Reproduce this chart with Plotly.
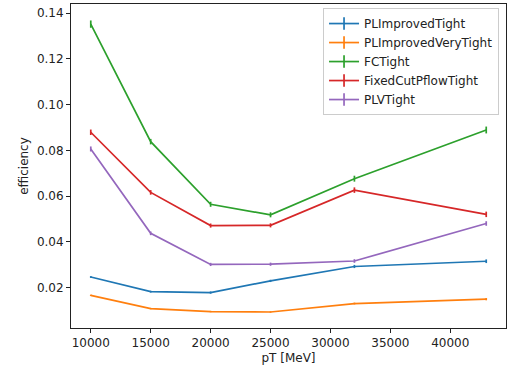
import plotly.graph_objects as go

pt = [10000, 15000, 20000, 25000, 32000, 43000]
names = ["PLImprovedTight", "PLImprovedVeryTight", "FCTight", "FixedCutPflowTight", "PLVTight"]
colors = ["#1f77b4", "#ff7f0e", "#2ca02c", "#d62728", "#9467bd"]
eff_pl_tight = [0.0246, 0.0182, 0.0178, 0.0229, 0.0292, 0.0315]
eff_pl_vtight = [0.0166, 0.0108, 0.0095, 0.0093, 0.0130, 0.0149]
eff_fc_tight = [0.1352, 0.0838, 0.0564, 0.0518, 0.0676, 0.0889]
eff_fixedcut = [0.0879, 0.0616, 0.0471, 0.0472, 0.0626, 0.0520]
eff_plv_tight = [0.0806, 0.0437, 0.0301, 0.0302, 0.0316, 0.0480]
err_pl_tight = [0.0004, 0.0004, 0.0005, 0.0005, 0.0007, 0.0008]
err_pl_vtight = [0.0003, 0.0003, 0.0003, 0.0003, 0.0004, 0.0005]
err_fc_tight = [0.0016, 0.0012, 0.0011, 0.0011, 0.0013, 0.0015]
err_fixedcut = [0.0012, 0.0010, 0.0009, 0.0009, 0.0012, 0.0012]
err_plv_tight = [0.0011, 0.0008, 0.0007, 0.0007, 0.0008, 0.0010]
x_ticks = [10000, 15000, 20000, 25000, 30000, 35000, 40000]
y_ticks = [0.02, 0.04, 0.06, 0.08, 0.10, 0.12, 0.14]

series = [eff_pl_tight, eff_pl_vtight, eff_fc_tight, eff_fixedcut, eff_plv_tight]
errors = [err_pl_tight, err_pl_vtight, err_fc_tight, err_fixedcut, err_plv_tight]

fig = go.Figure()
for name, color, ys, es in zip(names, colors, series, errors):
    fig.add_trace(go.Scatter(
        x=pt, y=ys, mode="lines", name=name, showlegend=False,
        line=dict(color=color, width=1.7),
        error_y=dict(type="data", array=es, visible=True, color=color, thickness=1.7, width=0),
    ))
for name, color in zip(names, colors):
    fig.add_trace(go.Scatter(
        x=[None], y=[None], mode="lines+markers", name=name,
        line=dict(color=color, width=1.7),
        marker=dict(symbol="line-ns-open", size=9, color=color, line=dict(color=color, width=1.7)),
    ))

font = "DejaVu Sans"
fig.update_layout(
    width=514, height=367,
    margin=dict(l=71, r=8, t=4, b=39),
    paper_bgcolor="white", plot_bgcolor="white",
    font=dict(family=font, size=12, color="#222"),
    showlegend=True,
    legend=dict(
        x=0.984, y=0.9875, xanchor="right", yanchor="top",
        bgcolor="rgba(255,255,255,0.9)", bordercolor="#cccccc", borderwidth=1,
        font=dict(family=font, size=12, color="#222"),
        tracegroupgap=0, itemwidth=30,
    ),
    xaxis=dict(
        range=[8350, 44650], tickvals=x_ticks,
        ticktext=[str(v) for v in x_ticks],
        showgrid=False, zeroline=False, showline=True, linecolor="#222", linewidth=1, mirror=True,
        ticks="outside", ticklen=4, tickcolor="#222", automargin=False,
        title=dict(text="pT [MeV]", font=dict(family=font, size=12), standoff=4),
    ),
    yaxis=dict(
        range=[0.0023, 0.1440], tickvals=y_ticks,
        ticktext=["%.2f" % v for v in y_ticks],
        showgrid=False, zeroline=False, showline=True, linecolor="#222", linewidth=1, mirror=True,
        ticks="outside", ticklen=4, tickcolor="#222", automargin=False,
        title=dict(text="efficiency", font=dict(family=font, size=12), standoff=5),
    ),
)
fig.write_html("out.html", config={"displayModeBar": False},
               post_script="document.body.style.margin='0';")
